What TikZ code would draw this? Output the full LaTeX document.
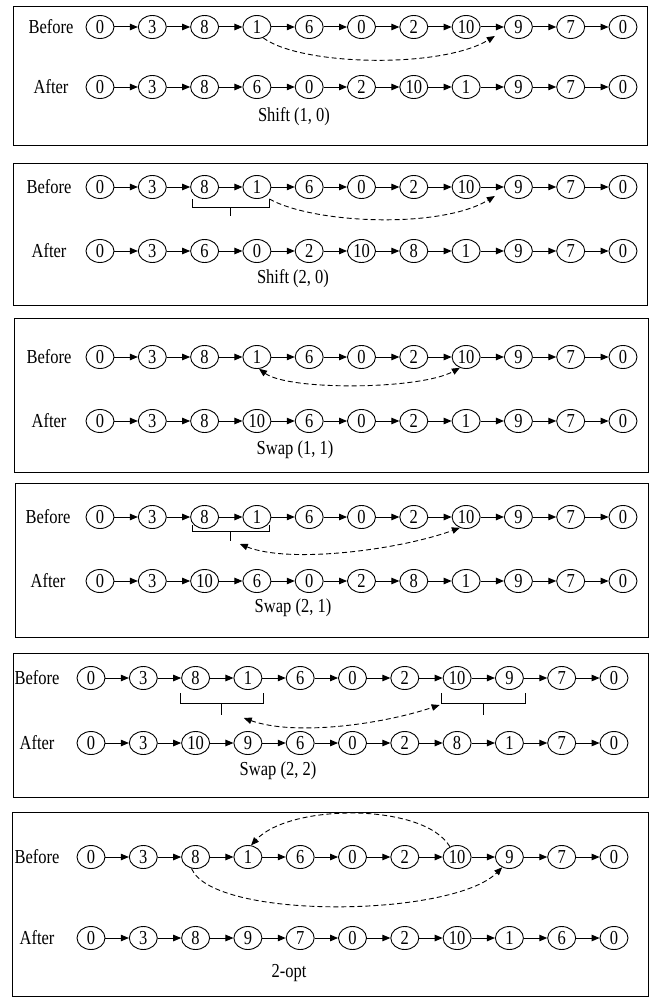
\documentclass[tikz,border=0pt]{standalone}
\usepackage{fontspec}
\setmainfont{Liberation Serif}
\usetikzlibrary{arrows.meta,calc,shapes.geometric}
\newcommand\tx[1]{\scalebox{1}[1.2]{#1}}
\tikzset{
 nd/.style={ellipse,draw,line width=0.9pt,minimum width=28pt,minimum height=23pt,inner sep=0pt,font=\fontsize{16.5}{16.5}\selectfont},
 ar/.style={line width=1pt,-{Triangle[length=8pt,width=6.5pt]}},
 dsh/.style={dash pattern=on 5pt off 3pt,line width=0.9pt,-{Triangle[length=8pt,width=6.5pt]}},
 dsh2/.style={dash pattern=on 5pt off 3pt,line width=0.9pt,{Triangle[length=8pt,width=6.5pt]}-{Triangle[length=8pt,width=6.5pt]}},
 lbl/.style={font=\fontsize{16.5}{16.5}\selectfont},
 panel/.style={draw,line width=1pt},
 brk/.style={line width=0.7pt}
}
\newcommand\seqrow[4]{%
 \foreach \v [count=\i from 0] in {#4}{\node[nd] (#1\i) at ({#2+52.3*\i},#3) {\tx{\v}};}
 \foreach \i in {0,...,9}{\pgfmathtruncatemacro\j{\i+1}\draw[ar] (#1\i) -- (#1\j);}
}
\begin{document}
\begin{tikzpicture}[x=1pt,y=-1pt]
\useasboundingbox (0,0) rectangle (654,998);
\fill[white] (0,0) rectangle (654,998);
% ---------- Panel 1: Shift (1,0)
\draw[panel] (13,7) rectangle (647,145);
\node[lbl] (L1b) at (51,27) {\tx{Before}};
\seqrow{P1b}{100}{27}{0,3,8,1,6,0,2,10,9,7,0}
\node[lbl] (L1a) at (51,87) {\tx{After}};
\seqrow{P1a}{100}{87}{0,3,8,6,0,2,10,1,9,7,0}
\node[lbl] (T1) at (294,117) {\tx{Shift (1, 0)}};
\coordinate (E1) at ($(P1b7)!0.55!(P1b8)+(0,9)$);
\draw[dsh] (P1b3.-60) .. controls +(37,28) and +(-54,33) .. (E1);
% ---------- Panel 2: Shift (2,0)
\draw[panel] (13,163) rectangle (647,305);
\node[lbl] (L2b) at (49,187) {\tx{Before}};
\seqrow{P2b}{100}{187}{0,3,8,1,6,0,2,10,9,7,0}
\node[lbl] (L2a) at (49,251) {\tx{After}};
\seqrow{P2a}{100}{251}{0,3,6,0,2,10,8,1,9,7,0}
\node[lbl] (T2) at (293,279) {\tx{Shift (2, 0)}};
\coordinate (K2l) at ($(P2b2.west)+(2,12)$);
\coordinate (K2r) at ($(P2b3.east)+(-2,12)$);
\draw[brk] (K2l) -- ++(0,8) -| (K2r);
\draw[brk] ($(P2b2)!0.5!(P2b3)+(0,20)$) -- ++(0,9);
\coordinate (E2) at ($(P2b7)!0.55!(P2b8)+(0,9)$);
\draw[dsh] (K2r) .. controls +(45,25) and +(-54,33) .. (E2);
% ---------- Panel 3: Swap (1,1)
\draw[panel] (14,318) rectangle (648,472);
\node[lbl] (L3b) at (49,357) {\tx{Before}};
\seqrow{P3b}{100}{357}{0,3,8,1,6,0,2,10,9,7,0}
\node[lbl] (L3a) at (49,421) {\tx{After}};
\seqrow{P3a}{100}{421}{0,3,8,10,6,0,2,1,9,7,0}
\node[lbl] (T3) at (295,450) {\tx{Swap (1, 1)}};
\draw[dsh2] (P3b3.-80) .. controls +(30,22) and +(-40,22) .. (P3b7.-120);
% ---------- Panel 4: Swap (2,1)
\draw[panel] (15,483) rectangle (648,637);
\node[lbl] (L4b) at (48,517) {\tx{Before}};
\seqrow{P4b}{100}{517}{0,3,8,1,6,0,2,10,9,7,0}
\node[lbl] (L4a) at (48,581) {\tx{After}};
\seqrow{P4a}{100}{581}{0,3,10,6,0,2,8,1,9,7,0}
\node[lbl] (T4) at (293,608) {\tx{Swap (2, 1)}};
\coordinate (K4l) at ($(P4b2.west)+(2,8)$);
\coordinate (K4r) at ($(P4b3.east)+(-2,8)$);
\draw[brk] (K4l) -- ++(0,6) -| (K4r);
\draw[brk] ($(P4b2)!0.5!(P4b3)+(0,14)$) -- ++(0,10);
\coordinate (S4) at ($(P4b2)!0.5!(P4b3)+(9,27)$);
\draw[dsh2] (S4) .. controls +(50,20) and +(-60,22) .. (P4b7.-120);
% ---------- Panel 5: Swap (2,2)
\draw[panel] (13,653) rectangle (648,797);
\node[lbl] (L5b) at (37,678) {\tx{Before}};
\seqrow{P5b}{91}{678}{0,3,8,1,6,0,2,10,9,7,0}
\node[lbl] (L5a) at (37,743) {\tx{After}};
\seqrow{P5a}{91}{743}{0,3,10,9,6,0,2,8,1,7,0}
\node[lbl] (T5) at (278,771) {\tx{Swap (2, 2)}};
\coordinate (K5l) at ($(P5b2.west)+(-1,15)$);
\coordinate (K5r) at ($(P5b3.east)+(1,15)$);
\draw[brk] (K5l) -- ++(0,10) -| (K5r);
\draw[brk] ($(P5b2)!0.5!(P5b3)+(0,25)$) -- ++(0,12);
\coordinate (M5l) at ($(P5b7.west)+(-1,15)$);
\coordinate (M5r) at ($(P5b8.east)+(1,15)$);
\draw[brk] (M5l) -- ++(0,10) -| (M5r);
\draw[brk] ($(P5b7)!0.5!(P5b8)+(0,25)$) -- ++(0,12);
\coordinate (S5) at ($(P5b2)!0.5!(P5b3)+(22,40)$);
\coordinate (E5) at ($(M5l)+(-2,12)$);
\draw[dsh2] (S5) .. controls +(50,18) and +(-60,20) .. (E5);
% ---------- Panel 6: 2-opt
\draw[panel] (12,812) rectangle (648,996);
\node[lbl] (L6b) at (37,857) {\tx{Before}};
\seqrow{P6b}{91}{857}{0,3,8,1,6,0,2,10,9,7,0}
\node[lbl] (L6a) at (37,938) {\tx{After}};
\seqrow{P6a}{91}{938}{0,3,8,9,7,0,2,10,1,6,0}
\node[lbl] (T6) at (289,973) {\tx{2-opt}};
\draw[dsh] (P6b7.125) .. controls +(-26,-44) and +(39,-42) .. (P6b3.75);
\draw[dsh] (P6b2.-110) .. controls +(22,52) and +(-50,50) .. (P6b8.-125);
\end{tikzpicture}
\end{document}
